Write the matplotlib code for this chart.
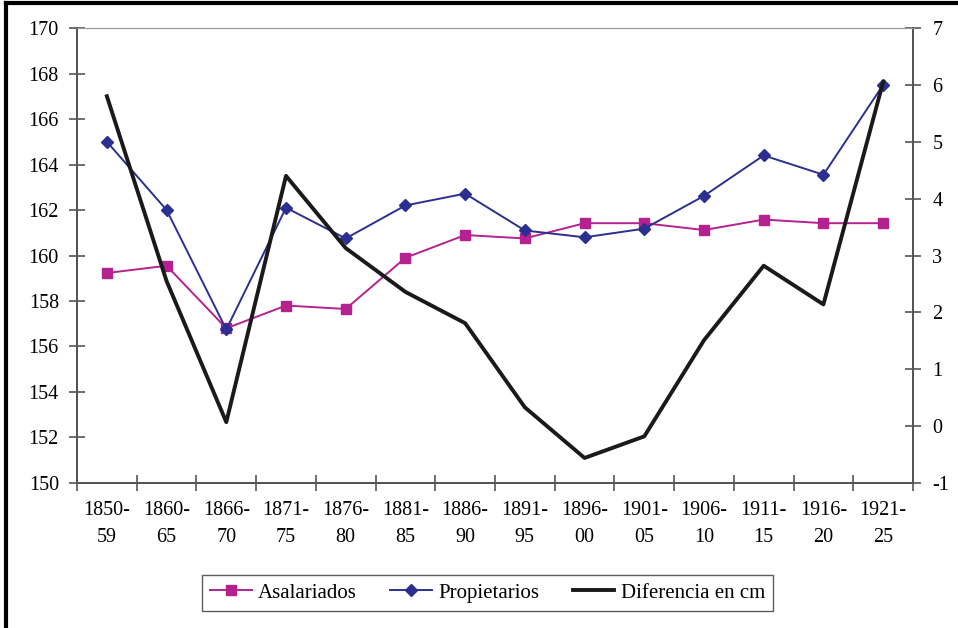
import matplotlib.pyplot as plt
from matplotlib.lines import Line2D

periodos = ["1850-\n59", "1860-\n65", "1866-\n70", "1871-\n75", "1876-\n80", "1881-\n85",
            "1886-\n90", "1891-\n95", "1896-\n00", "1901-\n05", "1906-\n10", "1911-\n15",
            "1916-\n20", "1921-\n25"]
asalariados = [159.23, 159.55, 156.8, 157.8, 157.65, 159.9, 160.9, 160.75, 161.42, 161.42,
               161.12, 161.58, 161.42, 161.42]
propietarios = [165.0, 162.0, 156.75, 162.1, 160.75, 162.2, 162.72, 161.1, 160.8, 161.18,
                162.62, 164.4, 163.55, 167.5]
diferencia = [5.8, 2.55, 0.07, 4.4, 3.13, 2.36, 1.81, 0.33, -0.56, -0.18, 1.51, 2.82, 2.14, 6.05]

plt.rcParams["font.family"] = ["Liberation Serif", "DejaVu Serif"]
plt.rcParams["font.size"] = 14.5
plt.rcParams["axes.unicode_minus"] = False

ROSA = "#B5218F"
AZUL = "#2B2F8F"
GRIS = "#555555"

fig = plt.figure(figsize=(9.58, 6.28), dpi=100)
ax = fig.add_axes([0.0804, 0.2309, 0.8726, 0.7245])
ax2 = ax.twinx()

x = list(range(len(periodos)))

l1, = ax.plot(x, asalariados, color=ROSA, lw=1.4, marker="s", ms=7, label="Asalariados")
l2, = ax.plot(x, propietarios, color=AZUL, lw=1.4, marker="D", ms=6, label="Propietarios")
l3, = ax2.plot(x, diferencia, color="#1a1a1a", lw=2.8, label="Diferencia en cm")

ax.set_xlim(-0.5, len(periodos) - 0.5)
ax.set_ylim(150, 170)
ax.set_yticks(range(150, 171, 2))
ax2.set_ylim(-1, 7)
ax2.set_yticks(range(-1, 8))

# etiquetas centradas, marcas en los limites de cada periodo
ax.set_xticks(x)
ax.set_xticklabels(periodos, linespacing=1.55)
ax.tick_params(axis="x", which="major", length=0, pad=13)
ax.set_xticks([i - 0.5 for i in range(len(periodos) + 1)], minor=True)
ax.tick_params(axis="x", which="minor", direction="inout", length=12, color=GRIS, width=1.2)

ax.tick_params(axis="y", direction="inout", length=12, color=GRIS, width=1.2, pad=7)
ax2.tick_params(axis="y", direction="inout", length=12, color=GRIS, width=1.2, pad=8)

for a in (ax, ax2):
    a.spines["top"].set_color("#999999")
    for s in ("left", "right", "bottom"):
        a.spines[s].set_color(GRIS)
        a.spines[s].set_linewidth(1.4)

leg = fig.legend(handles=[l1, l2, l3], loc="center", bbox_to_anchor=(0.509, 0.056),
                 ncol=3, frameon=True, fancybox=False, edgecolor="#333333",
                 handlelength=2.0, handletextpad=0.3, columnspacing=1.6,
                 borderpad=0.4, fontsize=15)
leg.get_frame().set_linewidth(1.0)

# marco exterior (solo izquierda y arriba visibles)
fig.add_artist(Line2D([0.0063, 0.0063], [0.0, 0.996], transform=fig.transFigure,
                      color="black", lw=3))
fig.add_artist(Line2D([0.0063, 1.0], [0.996, 0.996], transform=fig.transFigure,
                      color="black", lw=3))

fig.savefig("out.png", dpi=100)
